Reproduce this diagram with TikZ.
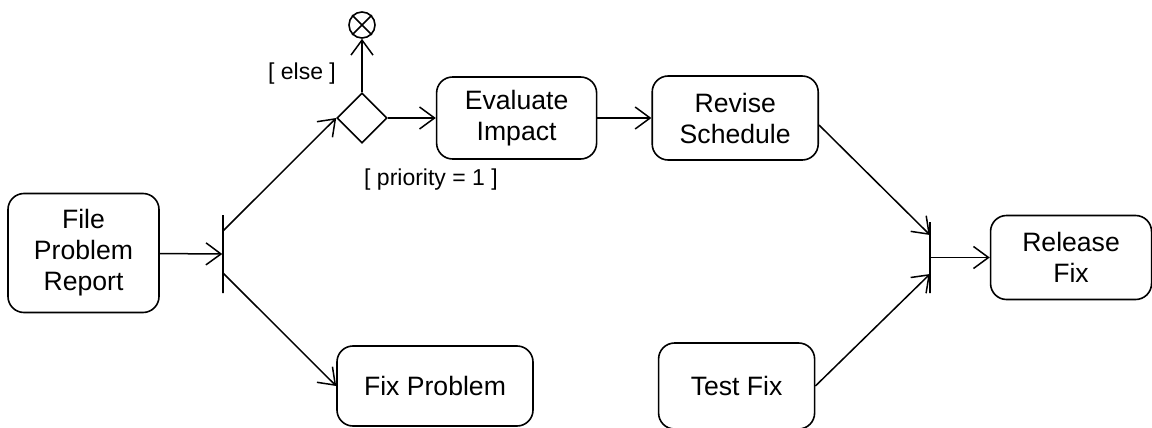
\documentclass[tikz,border=0pt]{standalone}
\usepackage{fontspec}
\setmainfont{Liberation Sans}
\usetikzlibrary{positioning, shapes.geometric, arrows.meta}

\begin{document}
\begin{tikzpicture}[x=0.5pt, y=-0.5pt,
	act/.style={draw, line width=0.8pt, rounded corners=8pt, align=center, inner sep=0pt, font=\fontsize{13.3}{15.5}\selectfont},
	bar/.style={draw, line width=0.75pt, inner sep=0pt, minimum width=0pt},
	guard/.style={inner sep=0pt, font=\fontsize{11.5}{13}\selectfont},
	flow/.style={line width=0.75pt, -{Straight Barb[length=7.5pt, width=11pt]}}]
	\useasboundingbox (0,0) rectangle (1152,428);
	
	\node[act, minimum width=75.5pt, minimum height=59.5pt] (fpr) at (83.5,253) {File\\Problem\\Report};
	\node[bar, minimum height=39pt] (fork) at (223,254) {};
	\node[diamond, draw, line width=0.8pt, minimum size=25pt, inner sep=0pt] (dec) at (362,118) {};
	\node[circle, draw, line width=0.8pt, minimum size=13pt, inner sep=0pt] (fin) at (362,25) {};
	\node[act, right=24pt of dec, minimum width=80pt, minimum height=41pt] (ei) {Evaluate\\Impact};
	\node[act, right=27pt of ei, minimum width=83pt, minimum height=42pt] (rs) {Revise\\Schedule};
	\node[act, minimum width=98pt, minimum height=40pt] (fp) at (435,386) {Fix Problem};
	\node[act, right=62pt of fp, minimum width=78pt, minimum height=43pt] (tf) {Test Fix};
	\node[bar, minimum height=35.5pt] (join) at (930,257.5) {};
	\node[act, right=29.5pt of join, minimum width=80.5pt, minimum height=42pt] (rf) {Release\\Fix};
	
	\node[guard] (g1) at (302,74) {[ else ]};
	\node[guard] (g2) at (431,180) {[ priority = 1 ]};
	
	\draw[line width=0.8pt] (fin.north west) -- (fin.south east) (fin.north east) -- (fin.south west);
	
	\draw[flow] (fpr) -- (fork);
	\draw[flow] ([yshift=11.5pt]fork.center) -- (dec.west);
	\draw[flow] ([yshift=-9.5pt]fork.center) -- (fp.west);
	\draw[flow] (dec) -- (fin);
	\draw[flow] (dec) -- (ei);
	\draw[flow] (ei) -- (rs);
	\draw[flow] ([yshift=-3.5pt]rs.east) -- ([yshift=11.25pt]join.center);
	\draw[flow] (tf.east) -- ([yshift=-8.25pt]join.center);
	\draw[flow] (join) -- (rf);
\end{tikzpicture}
\end{document}
